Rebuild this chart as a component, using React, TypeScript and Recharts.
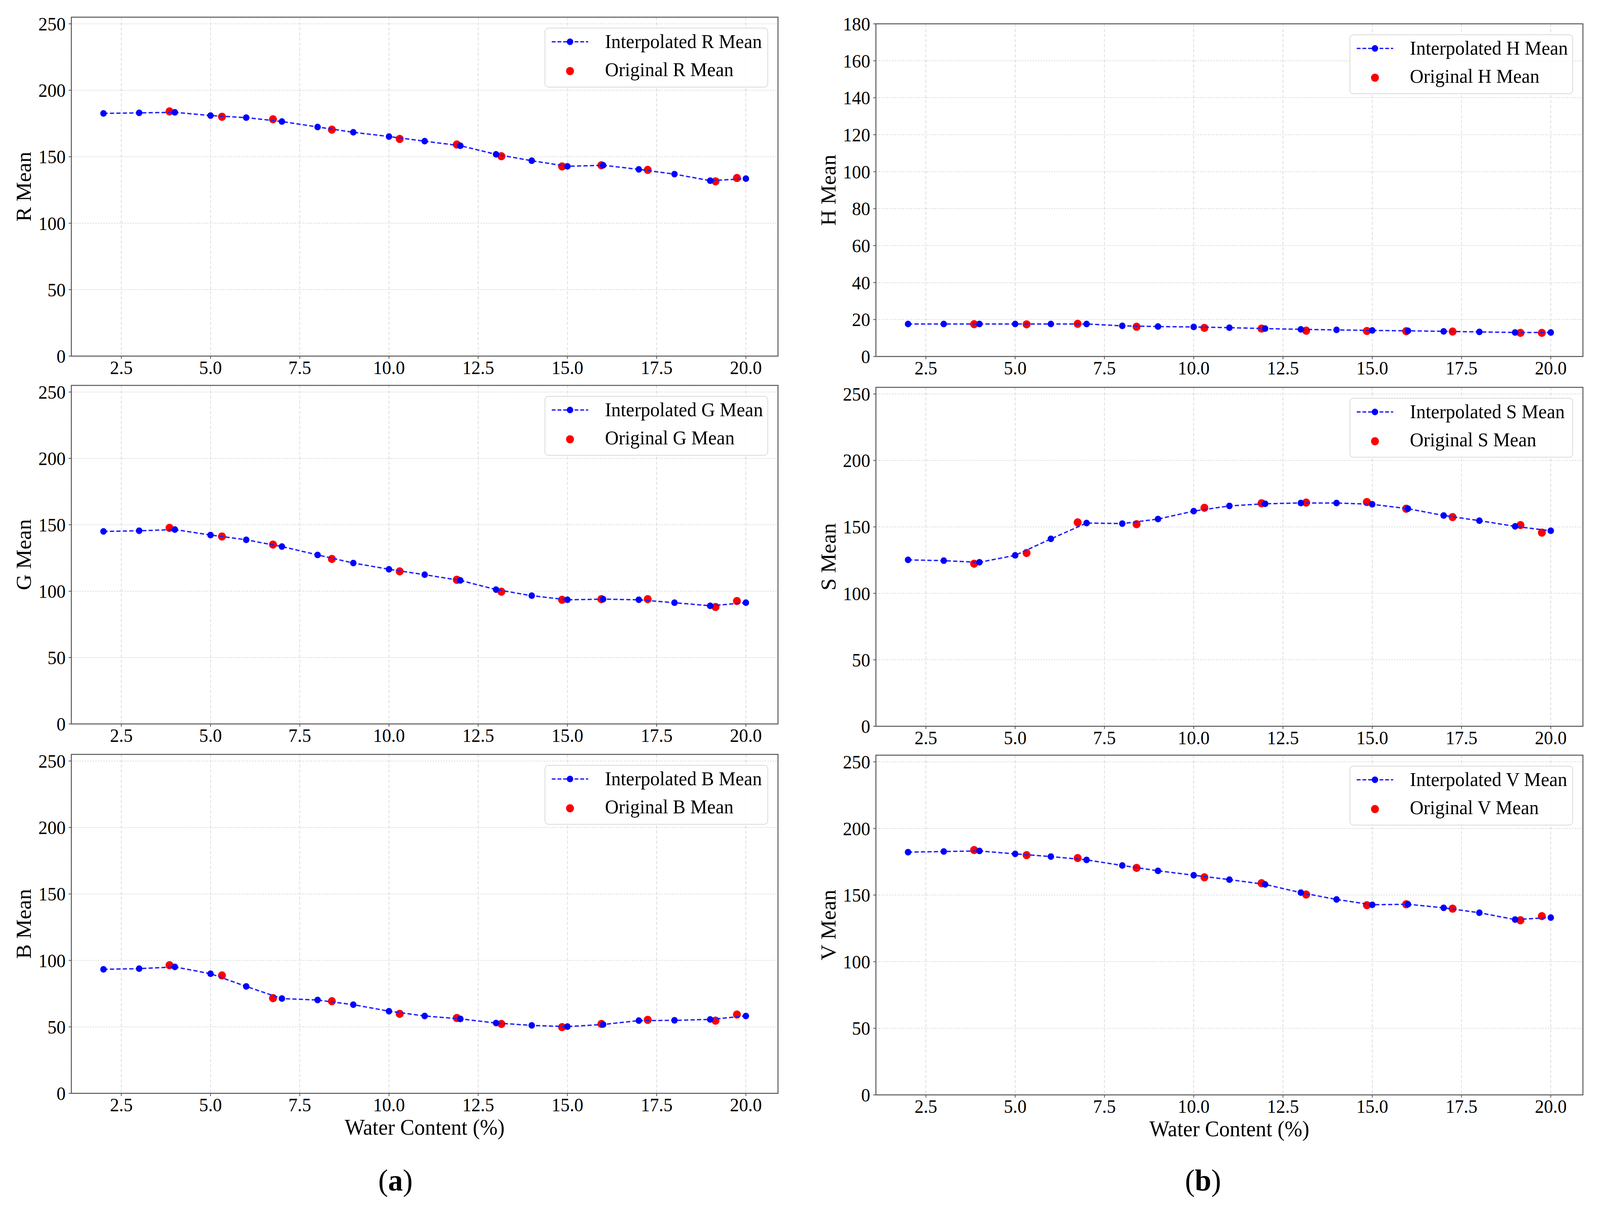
import React from 'react'
import { ScatterChart, Scatter, XAxis, YAxis, CartesianGrid, ReferenceArea, Legend } from 'recharts'

// water content of the interpolated and the measured samples
const INTERP_X = [2, 3, 4, 5, 6, 7, 8, 9, 10, 11, 12, 13, 14, 15, 16, 17, 18, 19, 20]
const ORIG_X = [3.85, 5.32, 6.75, 8.4, 10.3, 11.9, 13.15, 14.85, 15.95, 17.25, 19.15, 19.75]

const R_INTERP = [182.6, 183.0, 183.4, 181.0, 179.4, 176.5, 172.4, 168.4, 165.2, 161.7, 158.3, 151.8, 147.0, 142.8, 143.6, 140.5, 136.9, 132.0, 133.5]
const R_ORIG = [184.1, 180.1, 178.2, 170.4, 163.4, 159.2, 150.4, 142.7, 143.6, 140.1, 131.5, 134.0]

const G_INTERP = [145.0, 145.5, 146.4, 142.3, 138.7, 133.6, 127.3, 121.2, 116.5, 112.4, 108.1, 101.2, 96.6, 93.5, 94.0, 93.5, 91.3, 89.0, 91.3]
const G_ORIG = [147.7, 141.2, 135.1, 124.3, 114.9, 108.6, 99.6, 93.5, 94.0, 94.0, 88.1, 92.6]

const B_INTERP = [93.3, 93.8, 95.1, 90.0, 80.4, 71.3, 70.2, 66.7, 61.8, 58.2, 56.0, 52.9, 51.1, 50.2, 51.8, 54.7, 54.9, 55.6, 58.2]
const B_ORIG = [96.4, 88.7, 71.6, 69.3, 59.8, 56.7, 52.2, 49.8, 52.2, 55.3, 54.7, 59.3]

const H_INTERP = [17.6, 17.6, 17.6, 17.6, 17.6, 17.6, 16.6, 16.2, 16.0, 15.6, 15.1, 14.7, 14.4, 14.1, 13.9, 13.6, 13.3, 13.0, 13.0]
const H_ORIG = [17.5, 17.4, 17.7, 16.1, 15.5, 15.1, 14.0, 13.8, 13.7, 13.5, 12.8, 12.8]

const S_INTERP = [125.2, 124.6, 123.4, 128.6, 141.0, 152.9, 152.5, 155.9, 161.9, 165.8, 167.4, 168.0, 168.0, 167.0, 163.7, 158.6, 154.7, 150.4, 147.1]
const S_ORIG = [122.3, 130.4, 153.4, 152.0, 164.4, 167.8, 168.3, 168.7, 163.7, 157.4, 151.4, 145.7]

const V_INTERP = [182.2, 182.7, 183.1, 180.9, 178.9, 176.4, 172.2, 168.2, 164.9, 161.6, 158.0, 151.8, 146.7, 142.7, 143.1, 140.4, 136.7, 131.6, 133.1]
const V_ORIG = [183.8, 180.0, 177.8, 170.4, 163.3, 158.9, 150.4, 142.4, 143.1, 139.8, 131.1, 134.2]

const X_TICKS = [2.5, 5, 7.5, 10, 12.5, 15, 17.5, 20]
const LEVEL_TICKS = [0, 50, 100, 150, 200, 250]
const HUE_TICKS = [0, 20, 40, 60, 80, 100, 120, 140, 160, 180]

const SERIF = '"Liberation Serif", "Times New Roman", serif'
const BLUE = '#0000ff'
const RED = '#ff0000'
const FRAME = '#555555'
const GRID = '#d2d2d2'

// the figure is laid out at 4216 wide; the window only gives 4096, so squeeze x
const FIG_W = 4216
const FIG_H = 3086
const VIEW_W = 4096

const COL_W = 2108
const PAD_TOP = 40
const BELOW = 140
const X_AXIS_H = 60

function LegendBox({ ch }: { ch: string }) {
  return (
    <div
      style={{
        width: 589,
        height: 153,
        boxSizing: 'border-box',
        border: '2px solid #dadada',
        borderRadius: 10,
        background: 'rgba(255,255,255,0.85)',
        position: 'relative',
      }}
    >
      <svg width={589} height={153} style={{ position: 'absolute', left: -2, top: -2 }}>
        <line x1={19} x2={115} y1={36} y2={36} stroke={BLUE} strokeWidth={3} strokeDasharray="10 5" />
        <circle cx={67} cy={36} r={8.5} fill={BLUE} />
        <circle cx={67} cy={111} r={10.5} fill={RED} />
        <text x={159} y={52} fontFamily={SERIF} fontSize={50} fill="#000">
          Interpolated {ch} Mean
        </text>
        <text x={159} y={124} fontFamily={SERIF} fontSize={50} fill="#000">
          Original {ch} Mean
        </text>
      </svg>
    </div>
  )
}

interface PanelProps {
  ch: string
  interp: number[]
  orig: number[]
  yMax: number
  yTicks: number[]
  left: number
  plotLeft: number
  plotRight: number
  plotTop: number
  plotBottom: number
  xLabel?: boolean
}

function Panel({ ch, interp, orig, yMax, yTicks, left, plotLeft, plotRight, plotTop, plotBottom, xLabel }: PanelProps) {
  const plotW = plotRight - plotLeft
  const plotH = plotBottom - plotTop
  const yAxisW = plotLeft - left
  const mRight = left + COL_W - plotRight
  const height = plotH + PAD_TOP + BELOW

  const interpData = INTERP_X.map((x, i) => ({ x, y: interp[i] }))
  const origData = ORIG_X.map((x, i) => ({ x, y: orig[i] }))

  const tickStyle = { fontFamily: SERIF, fontSize: 48, fill: '#000' }

  return (
    <div style={{ position: 'absolute', left, top: plotTop - PAD_TOP }}>
      <ScatterChart
        width={COL_W}
        height={height}
        margin={{ top: PAD_TOP, right: mRight, bottom: BELOW - X_AXIS_H, left: 0 }}
      >
        <CartesianGrid horizontal vertical={false} stroke={GRID} strokeWidth={1.5} strokeDasharray="4 3" />
        <CartesianGrid horizontal={false} vertical stroke={GRID} strokeWidth={1.5} strokeDasharray="8 5" />
        <XAxis
          type="number"
          dataKey="x"
          domain={[1.1, 20.9]}
          ticks={X_TICKS}
          interval={0}
          allowDataOverflow
          tickFormatter={(v: number) => v.toFixed(1)}
          tick={tickStyle}
          tickSize={7}
          tickMargin={5}
          tickLine={{ stroke: FRAME, strokeWidth: 2 }}
          axisLine={false}
          height={X_AXIS_H}
          label={
            xLabel
              ? () => (
                  <text
                    x={yAxisW + plotW / 2}
                    y={PAD_TOP + plotH + 87}
                    textAnchor="middle"
                    dominantBaseline="central"
                    fontFamily={SERIF}
                    fontSize={56}
                    fill="#000"
                  >
                    Water Content (%)
                  </text>
                )
              : undefined
          }
        />
        <YAxis
          type="number"
          dataKey="y"
          domain={[0, yMax]}
          ticks={yTicks}
          interval={0}
          allowDataOverflow
          tick={tickStyle}
          tickSize={7}
          tickMargin={8}
          tickLine={{ stroke: FRAME, strokeWidth: 2 }}
          axisLine={false}
          width={yAxisW}
          label={() => (
            <text
              x={yAxisW - 125}
              y={PAD_TOP + plotH / 2}
              transform={`rotate(-90, ${yAxisW - 125}, ${PAD_TOP + plotH / 2})`}
              textAnchor="middle"
              dominantBaseline="central"
              fontFamily={SERIF}
              fontSize={56}
              fill="#000"
            >
              {ch} Mean
            </text>
          )}
        />
        <ReferenceArea
          x1={1.1}
          x2={20.9}
          y1={0}
          y2={yMax}
          fill="none"
          fillOpacity={0}
          stroke={FRAME}
          strokeWidth={2.5}
          strokeOpacity={1}
        />
        <Scatter
          name={`Original ${ch} Mean`}
          data={origData}
          fill={RED}
          isAnimationActive={false}
          shape={(p: any) => <circle cx={p.cx} cy={p.cy} r={10.5} fill={RED} />}
        />
        <Scatter
          name={`Interpolated ${ch} Mean`}
          data={interpData}
          fill={BLUE}
          line={{ stroke: '#2020ff', strokeWidth: 3.5, strokeDasharray: '11 6' }}
          isAnimationActive={false}
          shape={(p: any) => <circle cx={p.cx} cy={p.cy} r={8.5} fill={BLUE} />}
        />
        <Legend
          layout="horizontal"
          verticalAlign="middle"
          align="center"
          content={() => <LegendBox ch={ch} />}
          wrapperStyle={{ top: PAD_TOP + 27, right: mRight + 26, left: 'auto', width: 589, height: 153 }}
        />
      </ScatterChart>
    </div>
  )
}

export default function App() {
  return (
    <div style={{ position: 'relative', width: VIEW_W, height: FIG_H, overflow: 'hidden', background: '#fff' }}>
      <style>{'body{margin:0;overflow:hidden;}'}</style>
      <div
        style={{
          position: 'absolute',
          left: 0,
          top: 0,
          width: FIG_W,
          height: FIG_H,
          transform: `scale(${VIEW_W / FIG_W}, 1)`,
          transformOrigin: '0 0',
        }}
      >
        <Panel ch="R" interp={R_INTERP} orig={R_ORIG} yMax={255} yTicks={LEVEL_TICKS}
          left={0} plotLeft={188} plotRight={2050} plotTop={44} plotBottom={912} />
        <Panel ch="G" interp={G_INTERP} orig={G_ORIG} yMax={255} yTicks={LEVEL_TICKS}
          left={0} plotLeft={188} plotRight={2050} plotTop={987} plotBottom={1854} />
        <Panel ch="B" interp={B_INTERP} orig={B_ORIG} yMax={255} yTicks={LEVEL_TICKS}
          left={0} plotLeft={188} plotRight={2050} plotTop={1932} plotBottom={2800} xLabel />

        <Panel ch="H" interp={H_INTERP} orig={H_ORIG} yMax={180} yTicks={HUE_TICKS}
          left={COL_W} plotLeft={2308} plotRight={4171} plotTop={61} plotBottom={913} />
        <Panel ch="S" interp={S_INTERP} orig={S_ORIG} yMax={255} yTicks={LEVEL_TICKS}
          left={COL_W} plotLeft={2308} plotRight={4171} plotTop={992} plotBottom={1860} />
        <Panel ch="V" interp={V_INTERP} orig={V_ORIG} yMax={255} yTicks={LEVEL_TICKS}
          left={COL_W} plotLeft={2308} plotRight={4171} plotTop={1934} plotBottom={2804} xLabel />

        <div style={{ position: 'absolute', left: 1042, top: 3023, transform: 'translate(-50%, -50%)', fontFamily: SERIF, fontSize: 78, lineHeight: 1 }}>
          (<b>a</b>)
        </div>
        <div style={{ position: 'absolute', left: 3170, top: 3023, transform: 'translate(-50%, -50%)', fontFamily: SERIF, fontSize: 78, lineHeight: 1 }}>
          (<b>b</b>)
        </div>
      </div>
    </div>
  )
}
